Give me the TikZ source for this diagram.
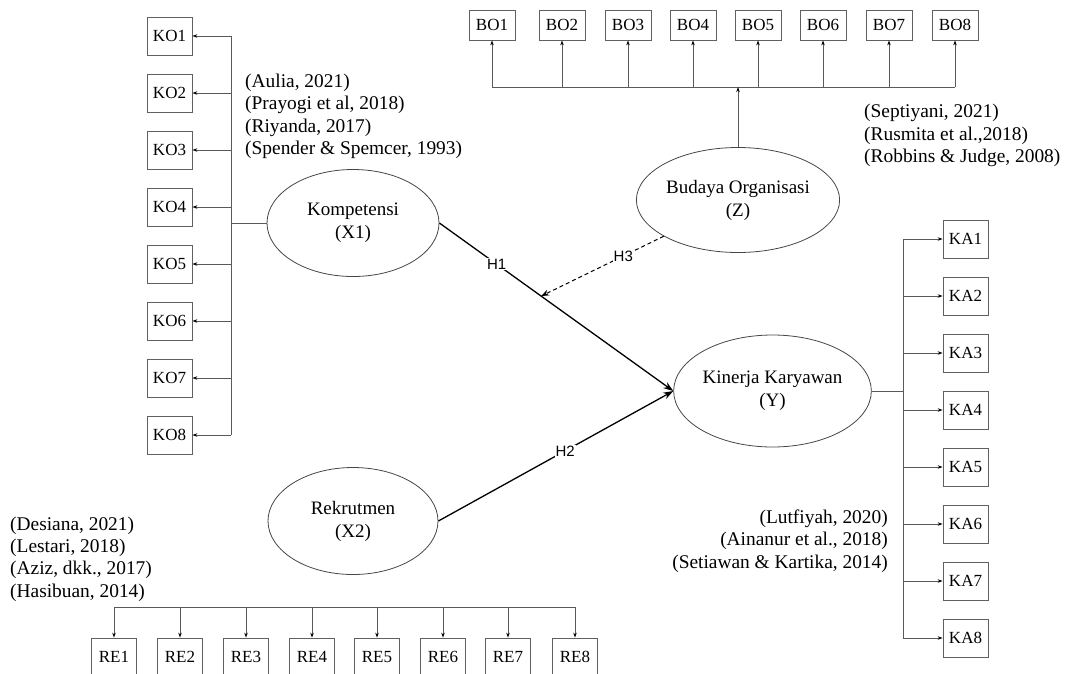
\documentclass[tikz,border=0pt]{standalone}
\usepackage{fontspec}
\setmainfont{Liberation Serif}
\newfontfamily\hfont{Liberation Sans}
\usetikzlibrary{shapes.geometric,arrows.meta,calc}
\tikzset{
  indbox/.style={draw=gray!75!black, line width=0.8pt, minimum width=45pt, minimum height=38pt, inner sep=0pt, font=\fontsize{17}{20}\selectfont},
  bobox/.style={indbox, minimum width=46pt, minimum height=30pt},
  latent/.style={ellipse, draw=gray!55!black, line width=0.8pt, inner sep=0pt, align=center, font=\fontsize{19}{23}\selectfont},
  bus/.style={draw=gray!70!black, line width=0.8pt},
  ind/.style={bus, -{Stealth[length=5pt,width=3.5pt,color=black]}},
  hyp/.style={draw=black, line width=1.3pt, -{Stealth[length=10pt,width=7pt]}},
  hlabel/.style={fill=white, inner sep=1pt, font=\hfont\fontsize{15}{17}\selectfont},
  cite/.style={inner sep=0pt, font=\fontsize{19.4}{22.4}\selectfont}
}
\begin{document}
\begin{tikzpicture}[x=1pt,y=-1pt]
\useasboundingbox (0,0) rectangle (1067,673);

% latent variables
\node[latent, minimum width=172pt, minimum height=107pt] (komp) at (353,223) {Kompetensi\\(X1)};
\node[latent, minimum width=176pt, minimum height=105pt] (bud) at (738,200) {Budaya Organisasi\\(Z)};
\node[latent, minimum width=171pt, minimum height=112pt] (kin) at (772.5,391) {Kinerja Karyawan\\(Y)};
\node[latent, minimum width=170pt, minimum height=107pt] (rek) at (353,521) {Rekrutmen\\(X2)};

% KO indicators
\coordinate (busko) at (231,223);
\foreach \i in {1,...,8} {
  \node[indbox] (KO\i) at (169.5,{36+57*(\i-1)}) {KO\i};
}
\draw[bus] (KO1 -| busko) -- (KO8 -| busko);
\foreach \i in {1,...,8} { \draw[ind] (KO\i -| busko) -- (KO\i.east); }
\draw[bus] (komp.west) -- (busko);

% BO indicators
\coordinate (busbo) at (738,87);
\foreach \i/\x in {1/492,2/562,3/628,4/693,5/758,6/823,7/889,8/955} {
  \node[bobox] (BO\i) at (\x,25) {BO\i};
}
\draw[bus] (BO1 |- busbo) -- (BO8 |- busbo);
\foreach \i in {1,...,8} { \draw[ind] (BO\i |- busbo) -- (BO\i.south); }
\draw[ind] (bud.north) -- (busbo);

% KA indicators
\coordinate (buska) at (903,391);
\foreach \i in {1,...,8} {
  \node[indbox] (KA\i) at (965.5,{239+57*(\i-1)}) {KA\i};
}
\draw[bus] (KA1 -| buska) -- (KA8 -| buska);
\foreach \i in {1,...,8} { \draw[ind] (KA\i -| buska) -- (KA\i.west); }
\draw[bus] (kin.east) -- (buska);

% RE indicators
\coordinate (busre) at (345,607);
\foreach \i/\x in {1/114,2/180,3/246,4/312,5/377,6/443,7/508,8/575} {
  \node[indbox] (RE\i) at (\x,657) {RE\i};
}
\draw[bus] (RE1 |- busre) -- (RE8 |- busre);
\foreach \i in {1,...,8} { \draw[ind] (RE\i |- busre) -- (RE\i.north); }

% hypotheses
\draw[hyp] (komp.east) -- node[hlabel,pos=0.245] {H1} (kin.west);
\draw[hyp] (rek.east) -- node[hlabel,pos=0.54] {H2} (kin.west);
\coordinate (m) at ($(komp.east)!0.435!(kin.west)$);
\draw[draw=black, line width=1pt, dash pattern=on 4pt off 3pt, -{Stealth[length=8pt,width=6pt]}] (bud) -- node[hlabel,pos=0.33] {H3} (m);

% citations
\node[cite, anchor=west, align=left] (citko) at (245,116.5) {(Aulia, 2021)\\(Prayogi et al, 2018)\\(Riyanda, 2017)\\(Spender \& Spemcer, 1993)};
\node[cite, anchor=west, align=left] (citbo) at (864,135.5) {(Septiyani, 2021)\\(Rusmita et al.,2018)\\(Robbins \& Judge, 2008)};
\node[cite, anchor=east, align=right] (citka) at (888,541) {(Lutfiyah, 2020)\\(Ainanur et al., 2018)\\(Setiawan \& Kartika, 2014)};
\node[cite, anchor=west, align=left] (citre) at (10,559) {(Desiana, 2021)\\(Lestari, 2018)\\(Aziz, dkk., 2017)\\(Hasibuan, 2014)};
\end{tikzpicture}
\end{document}
